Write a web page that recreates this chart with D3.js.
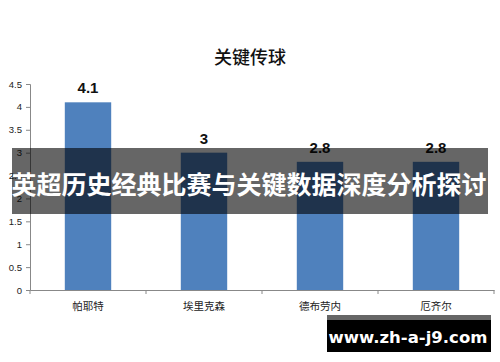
<!DOCTYPE html>
<html><head><meta charset="utf-8">
<script src="https://cdn.jsdelivr.net/npm/d3@7"></script>
<style>html,body{margin:0;padding:0;background:#fff;}svg{display:block;}</style>
</head><body>
<svg id="c" width="500" height="362"></svg>
<script>
const categories = ["帕耶特", "埃里克森", "德布劳内", "厄齐尔"];
const values = [4.1, 3, 2.8, 2.8];
const valueLabels = ["4.1", "3", "2.8", "2.8"];
const yTicks = [0, 0.5, 1, 1.5, 2, 2.5, 3, 3.5, 4, 4.5];
const title = "关键传球";
const bannerText = "英超历史经典比赛与关键数据深度分析探讨";
const watermark = "www.zh-a-j9.com";

const svg = d3.select("#c");
const cjk = "'Noto Sans CJK SC', sans-serif";
const m = {left: 30, right: 6, top: 84, bottom: 72};
const W = 500, H = 362;
const x = d3.scaleBand().domain(categories).range([m.left, W - m.right]).paddingInner(0).paddingOuter(0);
const y = d3.scaleLinear().domain([0, 4.5]).range([H - m.bottom, m.top]);

svg.append("text").attr("x", 250).attr("y", 64).attr("text-anchor", "middle")
  .attr("font-family", cjk).attr("font-size", 18).attr("font-weight", 500).attr("fill", "#111").text(title);

const barW = x.bandwidth() * 0.4;
svg.selectAll("rect.bar").data(values).enter().append("rect").attr("class", "bar")
  .attr("x", (d, i) => x(categories[i]) + (x.bandwidth() - barW) / 2)
  .attr("y", d => y(d)).attr("width", barW).attr("height", d => y(0) - y(d))
  .attr("fill", "#4F81BD");

svg.selectAll("text.vl").data(values).enter().append("text").attr("class", "vl")
  .attr("x", (d, i) => x(categories[i]) + x.bandwidth() / 2)
  .attr("y", d => y(d) - 9).attr("text-anchor", "middle")
  .attr("font-family", "'Liberation Sans', Arial, sans-serif").attr("font-weight", "bold")
  .attr("font-size", 15).attr("fill", "#111").text((d, i) => valueLabels[i]);

const yAxis = svg.append("g").attr("transform", `translate(${m.left},0)`)
  .call(d3.axisLeft(y).tickValues(yTicks).tickSize(4).tickPadding(4).tickFormat(d3.format("")));
yAxis.select(".domain").attr("stroke", "#888");
yAxis.selectAll(".tick line").attr("stroke", "#888");
yAxis.selectAll(".tick text").attr("font-family", "'Liberation Sans', Arial, sans-serif").attr("font-size", 9.5).attr("fill", "#222");

const xAxis = svg.append("g").attr("transform", `translate(0,${y(0)})`)
  .call(d3.axisBottom(x).tickSize(0).tickPadding(13));
xAxis.select(".domain").attr("stroke", "#888");
xAxis.selectAll(".tick text").attr("font-family", cjk).attr("font-size", 10.5).attr("fill", "#222");
const bounds = categories.map(c => x(c)).concat([x(categories[categories.length - 1]) + x.bandwidth()]);
svg.selectAll("line.xt").data(bounds).enter().append("line").attr("class", "xt")
  .attr("x1", d => d).attr("x2", d => d).attr("y1", y(0)).attr("y2", y(0) + 4).attr("stroke", "#888");

svg.append("rect").attr("x", 12).attr("y", 148).attr("width", 476).attr("height", 66).attr("fill", "rgba(0,0,0,0.6)");
svg.append("text").attr("x", 249).attr("y", 194).attr("text-anchor", "middle")
  .attr("font-family", cjk).attr("font-weight", "bold").attr("font-size", 25).attr("fill", "#fff").text(bannerText);

svg.append("rect").attr("x", 327).attr("y", 315).attr("width", 164).attr("height", 37).attr("fill", "#000");
svg.append("rect").attr("x", 327).attr("y", 315).attr("width", 164).attr("height", 5).attr("fill", "#666");
svg.append("text").attr("x", 408).attr("y", 343).attr("text-anchor", "middle")
  .attr("font-family", "'DejaVu Sans', sans-serif").attr("font-weight", "bold").attr("font-size", 16.5).attr("fill", "#fff").text(watermark);
</script>
</body></html>
